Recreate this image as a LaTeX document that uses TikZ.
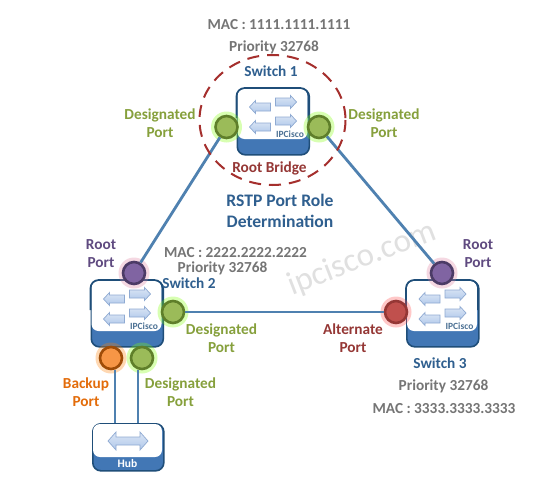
\documentclass[tikz,border=0pt]{standalone}
\usepackage{fontspec}
\setmainfont{Carlito}
\definecolor{linkblue}{HTML}{4F81B0}
\definecolor{swdark}{HTML}{1F4E79}
\definecolor{swblue}{HTML}{4277B5}
\definecolor{arrowtop}{HTML}{DCE6F5}
\definecolor{arrowbot}{HTML}{AFC8EA}
\definecolor{arrowline}{HTML}{8FAAD2}
\definecolor{labelblue}{HTML}{2F5F8F}
\definecolor{graytext}{HTML}{757575}
\definecolor{greenlab}{HTML}{86A03C}
\definecolor{greenfill}{HTML}{9BBB59}
\definecolor{greenedge}{HTML}{5F7F2A}
\definecolor{purplelab}{HTML}{5F4A80}
\definecolor{purplefill}{HTML}{8064A2}
\definecolor{redlab}{HTML}{953735}
\definecolor{redfill}{HTML}{C0504D}
\definecolor{orangelab}{HTML}{E36C0A}
\definecolor{orangefill}{HTML}{F79646}
\tikzset{
  x=1pt,y=-1pt,
  lbl/.style={font=\fontsize{15.3}{18}\selectfont\bfseries,align=center,inner sep=0pt},
  graylbl/.style={lbl,text=graytext},
  bluelbl/.style={lbl,text=labelblue},
  greenlbl/.style={lbl,text=greenlab},
  purplelbl/.style={lbl,text=purplelab},
  redlbl/.style={lbl,text=redlab},
  orangelbl/.style={lbl,text=orangelab},
  port/.style={circle,minimum size=22pt,inner sep=0pt,line width=2.6pt},
  greenport/.style={port,draw=greenedge,fill=greenfill},
  purpleport/.style={port,draw=purplelab!80!black,fill=purplefill},
  redport/.style={port,draw=redlab,fill=redfill},
  orangeport/.style={port,draw=orangelab!70!black,fill=orangefill},
  glow/.style={circle,minimum size=31pt,inner sep=0pt,fill=#1,opacity=.3},
  link/.style={draw=linkblue,line width=2.8pt},
  devshadow/.style={fill=swblue,draw=swdark,line width=1.6pt,rounded corners=8pt},
  devface/.style={fill=white,rounded corners=7pt},
  flow/.style={top color=arrowtop,bottom color=arrowbot,draw=arrowline,line width=.7pt},
  tag/.style={font=\fontsize{9.5}{10}\selectfont\bfseries,text=swdark!80!white,inner sep=0pt},
  ring/.style={draw=redlab!85!red,line width=2pt,dash pattern=on 12pt off 8pt},
}
\newcommand{\rarrow}[2]{\path[flow] (#1-10,#2-4) -- (#1+5,#2-4) -- (#1+5,#2-6.5) -- (#1+11,#2) -- (#1+5,#2+6.5) -- (#1+5,#2+4) -- (#1-10,#2+4) -- cycle;}
\newcommand{\larrow}[2]{\path[flow] (#1+10,#2-4) -- (#1-5,#2-4) -- (#1-5,#2-6.5) -- (#1-11,#2) -- (#1-5,#2+6.5) -- (#1-5,#2+4) -- (#1+10,#2+4) -- cycle;}
\newcommand{\switchicon}[3]{%
  \node[devshadow,minimum width=72pt,minimum height=66pt,inner sep=0pt,anchor=north west] (#1) at (#2,#3) {};
  \path[devface] (#2+1,#3+1) rectangle (#2+71,#3+51);
  \draw[swdark,line width=1.6pt,rounded corners=8pt] (#2,#3+30) -- (#2,#3) -- (#2+72,#3) -- (#2+72,#3+30);
  \larrow{#2+24}{#3+19}
  \larrow{#2+24}{#3+39}
  \rarrow{#2+49}{#3+14}
  \rarrow{#2+49}{#3+33}
  \node[tag] at (#2+53.5,#3+46) {IPCisco};
}
\begin{document}
\begin{tikzpicture}
\useasboundingbox[fill=white] (0,0) rectangle (548,495);
\node[font=\fontsize{33}{33}\selectfont,text=black!12,rotate=21,inner sep=0pt] (wm) at (362,259) {ipcisco.com};
\switchicon{swa}{236.5}{88}
\switchicon{swb}{90.5}{280}
\switchicon{swc}{406}{280}
\node[devshadow,minimum width=71pt,minimum height=47pt,inner sep=0pt,anchor=north west] (hub) at (92,423) {};
\path[devface] (93,424) rectangle (162,457);
\draw[flow] (108,441) -- (116,432) -- (116,437) -- (140,437) -- (140,432) -- (148,441) -- (140,450) -- (140,445) -- (116,445) -- (116,450) -- cycle;
\node[lbl,text=white,font=\fontsize{11.5}{12}\selectfont\bfseries] (hubl) at (127.5,464) {Hub};
\node[glow=green!50!yellow] at (226.5,127) {};
\node[glow=green!50!yellow] at (319,127) {};
\node[glow=purple!50!white] at (134,273) {};
\node[glow=green!50!yellow] at (173,312) {};
\node[glow=orange] at (111,358) {};
\node[glow=green!50!yellow] at (142,358) {};
\node[glow=purple!50!white] at (442,273) {};
\node[glow=red!70!white] at (396,312) {};
\node[greenport] (a1) at (226.5,127) {};
\node[greenport] (a2) at (319,127) {};
\node[purpleport] (b1) at (134,273) {};
\node[greenport] (b2) at (173,312) {};
\node[orangeport] (b3) at (111,358) {};
\node[greenport] (b4) at (142,358) {};
\node[purpleport] (c1) at (442,273) {};
\node[redport] (c2) at (396,312) {};
\coordinate (h1) at (115,423);
\coordinate (h2) at (138,423);
\draw[link] (a1) -- (b1);
\draw[link] (a2) -- (c1);
\draw[link] (b2) -- (c2);
\draw[link] (b3.south -| h1) -- (h1);
\draw[link] (b4.south -| h2) -- (h2);
\draw[ring] (272.5,120) ellipse [x radius=73,y radius=65];
\node[graylbl] (t1) at (279,25) {MAC : 1111.1111.1111};
\node[graylbl] (t2) at (274,47) {Priority 32768};
\node[bluelbl] (t3) at (271,71) {Switch 1};
\node[greenlbl] (t4) at (160,123) {Designated\\Port};
\node[greenlbl] (t5) at (384,123) {Designated\\Port};
\node[redlbl] (t6) at (269.5,168) {Root Bridge};
\node[bluelbl,font=\fontsize{17.6}{20.5}\selectfont\bfseries] (t7) at (280,211) {RSTP Port Role\\Determination};
\node[purplelbl] (t8) at (101,254) {Root\\Port};
\node[graylbl] (t9) at (235.5,253) {MAC : 2222.2222.2222};
\node[graylbl] (t10) at (222.5,268) {Priority 32768};
\node[bluelbl] (t11) at (189,283) {Switch 2};
\node[greenlbl] (t12) at (221.5,338) {Designated\\Port};
\node[redlbl] (t13) at (353,338) {Alternate\\Port};
\node[purplelbl] (t14) at (478,254) {Root\\Port};
\node[bluelbl] (t15) at (440,363) {Switch 3};
\node[graylbl] (t16) at (443.5,386) {Priority 32768};
\node[graylbl] (t17) at (444,409) {MAC : 3333.3333.3333};
\node[orangelbl] (t18) at (86,392) {Backup\\Port};
\node[greenlbl] (t19) at (180.5,392) {Designated\\Port};
\end{tikzpicture}
\end{document}
